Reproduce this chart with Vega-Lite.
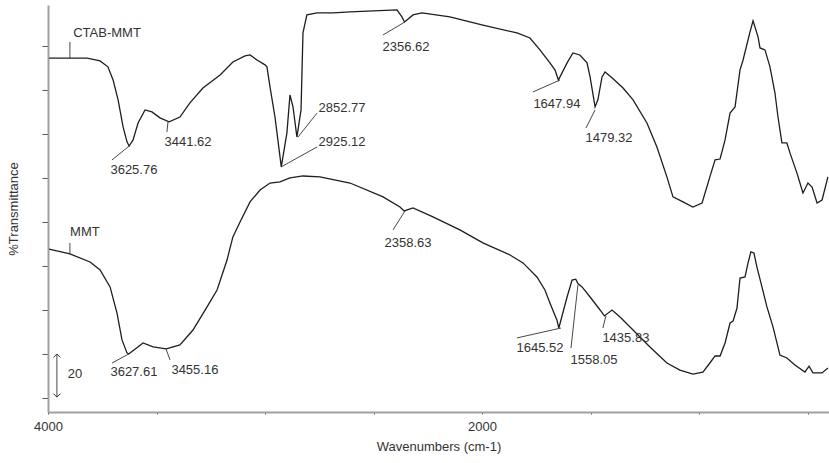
{
  "$schema": "https://vega.github.io/schema/vega-lite/v6.json",
  "width": 781,
  "height": 407,
  "autosize": {"type": "none"},
  "padding": {"left": 48, "top": 5, "right": 0, "bottom": 51},
  "background": "white",
  "config": {
    "view": {"stroke": null},
    "font": "Liberation Sans",
    "text": {"font": "Liberation Sans"}
  },
  "datasets": {
    "spectra": [
      {"sample": "CTAB-MMT", "wn": 3995, "t": 154.5},
      {"sample": "CTAB-MMT", "wn": 3899, "t": 154.5},
      {"sample": "CTAB-MMT", "wn": 3820, "t": 154.5},
      {"sample": "CTAB-MMT", "wn": 3760, "t": 153.2},
      {"sample": "CTAB-MMT", "wn": 3724, "t": 150.5},
      {"sample": "CTAB-MMT", "wn": 3700, "t": 144.5},
      {"sample": "CTAB-MMT", "wn": 3677, "t": 135.5},
      {"sample": "CTAB-MMT", "wn": 3654, "t": 123.2},
      {"sample": "CTAB-MMT", "wn": 3636, "t": 116.4},
      {"sample": "CTAB-MMT", "wn": 3626, "t": 114.5},
      {"sample": "CTAB-MMT", "wn": 3608, "t": 117.3},
      {"sample": "CTAB-MMT", "wn": 3585, "t": 125},
      {"sample": "CTAB-MMT", "wn": 3553, "t": 130.9},
      {"sample": "CTAB-MMT", "wn": 3521, "t": 130},
      {"sample": "CTAB-MMT", "wn": 3484, "t": 127.3},
      {"sample": "CTAB-MMT", "wn": 3442, "t": 125.5},
      {"sample": "CTAB-MMT", "wn": 3392, "t": 127.7},
      {"sample": "CTAB-MMT", "wn": 3346, "t": 134.1},
      {"sample": "CTAB-MMT", "wn": 3286, "t": 140.9},
      {"sample": "CTAB-MMT", "wn": 3207, "t": 146.8},
      {"sample": "CTAB-MMT", "wn": 3148, "t": 152.7},
      {"sample": "CTAB-MMT", "wn": 3092, "t": 155.5},
      {"sample": "CTAB-MMT", "wn": 3069, "t": 155.9},
      {"sample": "CTAB-MMT", "wn": 3037, "t": 153.6},
      {"sample": "CTAB-MMT", "wn": 3000, "t": 151.4},
      {"sample": "CTAB-MMT", "wn": 2991, "t": 150.5},
      {"sample": "CTAB-MMT", "wn": 2977, "t": 141.4},
      {"sample": "CTAB-MMT", "wn": 2954, "t": 127.7},
      {"sample": "CTAB-MMT", "wn": 2925, "t": 105},
      {"sample": "CTAB-MMT", "wn": 2899, "t": 120.5},
      {"sample": "CTAB-MMT", "wn": 2885, "t": 137.7},
      {"sample": "CTAB-MMT", "wn": 2871, "t": 132.3},
      {"sample": "CTAB-MMT", "wn": 2853, "t": 118.6},
      {"sample": "CTAB-MMT", "wn": 2834, "t": 130.9},
      {"sample": "CTAB-MMT", "wn": 2825, "t": 165.9},
      {"sample": "CTAB-MMT", "wn": 2807, "t": 174.1},
      {"sample": "CTAB-MMT", "wn": 2760, "t": 175},
      {"sample": "CTAB-MMT", "wn": 2687, "t": 175},
      {"sample": "CTAB-MMT", "wn": 2608, "t": 175.5},
      {"sample": "CTAB-MMT", "wn": 2392, "t": 176.4},
      {"sample": "CTAB-MMT", "wn": 2369, "t": 173.2},
      {"sample": "CTAB-MMT", "wn": 2357, "t": 170.9},
      {"sample": "CTAB-MMT", "wn": 2318, "t": 174.1},
      {"sample": "CTAB-MMT", "wn": 2277, "t": 175},
      {"sample": "CTAB-MMT", "wn": 2148, "t": 173.2},
      {"sample": "CTAB-MMT", "wn": 1996, "t": 169.5},
      {"sample": "CTAB-MMT", "wn": 1839, "t": 165.9},
      {"sample": "CTAB-MMT", "wn": 1779, "t": 163.6},
      {"sample": "CTAB-MMT", "wn": 1733, "t": 158.2},
      {"sample": "CTAB-MMT", "wn": 1687, "t": 152.3},
      {"sample": "CTAB-MMT", "wn": 1664, "t": 149.1},
      {"sample": "CTAB-MMT", "wn": 1648, "t": 144.5},
      {"sample": "CTAB-MMT", "wn": 1608, "t": 152.3},
      {"sample": "CTAB-MMT", "wn": 1581, "t": 156.8},
      {"sample": "CTAB-MMT", "wn": 1549, "t": 155.9},
      {"sample": "CTAB-MMT", "wn": 1516, "t": 152.3},
      {"sample": "CTAB-MMT", "wn": 1502, "t": 145.9},
      {"sample": "CTAB-MMT", "wn": 1479, "t": 132.3},
      {"sample": "CTAB-MMT", "wn": 1466, "t": 135.5},
      {"sample": "CTAB-MMT", "wn": 1447, "t": 145.9},
      {"sample": "CTAB-MMT", "wn": 1433, "t": 148.2},
      {"sample": "CTAB-MMT", "wn": 1401, "t": 145.5},
      {"sample": "CTAB-MMT", "wn": 1350, "t": 140.9},
      {"sample": "CTAB-MMT", "wn": 1304, "t": 135.5},
      {"sample": "CTAB-MMT", "wn": 1240, "t": 125},
      {"sample": "CTAB-MMT", "wn": 1194, "t": 114.1},
      {"sample": "CTAB-MMT", "wn": 1148, "t": 100.5},
      {"sample": "CTAB-MMT", "wn": 1120, "t": 91.4},
      {"sample": "CTAB-MMT", "wn": 1074, "t": 89.1},
      {"sample": "CTAB-MMT", "wn": 1028, "t": 86.8},
      {"sample": "CTAB-MMT", "wn": 986, "t": 88.6},
      {"sample": "CTAB-MMT", "wn": 950, "t": 100.5},
      {"sample": "CTAB-MMT", "wn": 926, "t": 108.2},
      {"sample": "CTAB-MMT", "wn": 903, "t": 108.6},
      {"sample": "CTAB-MMT", "wn": 880, "t": 117.3},
      {"sample": "CTAB-MMT", "wn": 857, "t": 129.5},
      {"sample": "CTAB-MMT", "wn": 834, "t": 132.3},
      {"sample": "CTAB-MMT", "wn": 811, "t": 149.1},
      {"sample": "CTAB-MMT", "wn": 797, "t": 153.6},
      {"sample": "CTAB-MMT", "wn": 765, "t": 166.4},
      {"sample": "CTAB-MMT", "wn": 751, "t": 171.4},
      {"sample": "CTAB-MMT", "wn": 728, "t": 164.1},
      {"sample": "CTAB-MMT", "wn": 719, "t": 159.1},
      {"sample": "CTAB-MMT", "wn": 696, "t": 158.2},
      {"sample": "CTAB-MMT", "wn": 673, "t": 150.5},
      {"sample": "CTAB-MMT", "wn": 650, "t": 138.6},
      {"sample": "CTAB-MMT", "wn": 636, "t": 127.7},
      {"sample": "CTAB-MMT", "wn": 618, "t": 115.9},
      {"sample": "CTAB-MMT", "wn": 595, "t": 115.9},
      {"sample": "CTAB-MMT", "wn": 581, "t": 111.4},
      {"sample": "CTAB-MMT", "wn": 549, "t": 102.3},
      {"sample": "CTAB-MMT", "wn": 521, "t": 93.2},
      {"sample": "CTAB-MMT", "wn": 498, "t": 97.7},
      {"sample": "CTAB-MMT", "wn": 479, "t": 95.9},
      {"sample": "CTAB-MMT", "wn": 456, "t": 88.6},
      {"sample": "CTAB-MMT", "wn": 433, "t": 90},
      {"sample": "CTAB-MMT", "wn": 406, "t": 100.5},
      {"sample": "MMT", "wn": 3995, "t": 67.7},
      {"sample": "MMT", "wn": 3899, "t": 65.5},
      {"sample": "MMT", "wn": 3806, "t": 61.8},
      {"sample": "MMT", "wn": 3760, "t": 58.2},
      {"sample": "MMT", "wn": 3714, "t": 50.5},
      {"sample": "MMT", "wn": 3682, "t": 38.6},
      {"sample": "MMT", "wn": 3659, "t": 26.4},
      {"sample": "MMT", "wn": 3636, "t": 20.5},
      {"sample": "MMT", "wn": 3628, "t": 20},
      {"sample": "MMT", "wn": 3562, "t": 25},
      {"sample": "MMT", "wn": 3516, "t": 23.2},
      {"sample": "MMT", "wn": 3455, "t": 22.3},
      {"sample": "MMT", "wn": 3392, "t": 24.1},
      {"sample": "MMT", "wn": 3332, "t": 30.9},
      {"sample": "MMT", "wn": 3267, "t": 41.4},
      {"sample": "MMT", "wn": 3221, "t": 49.1},
      {"sample": "MMT", "wn": 3175, "t": 62.7},
      {"sample": "MMT", "wn": 3148, "t": 73.2},
      {"sample": "MMT", "wn": 3115, "t": 80},
      {"sample": "MMT", "wn": 3069, "t": 89.1},
      {"sample": "MMT", "wn": 3023, "t": 94.5},
      {"sample": "MMT", "wn": 2977, "t": 97.7},
      {"sample": "MMT", "wn": 2931, "t": 98.2},
      {"sample": "MMT", "wn": 2885, "t": 100},
      {"sample": "MMT", "wn": 2825, "t": 100.9},
      {"sample": "MMT", "wn": 2747, "t": 100.5},
      {"sample": "MMT", "wn": 2608, "t": 97.7},
      {"sample": "MMT", "wn": 2456, "t": 91.4},
      {"sample": "MMT", "wn": 2378, "t": 86.8},
      {"sample": "MMT", "wn": 2359, "t": 85},
      {"sample": "MMT", "wn": 2318, "t": 86.4},
      {"sample": "MMT", "wn": 2226, "t": 82.3},
      {"sample": "MMT", "wn": 2102, "t": 76.4},
      {"sample": "MMT", "wn": 1996, "t": 70.5},
      {"sample": "MMT", "wn": 1871, "t": 65},
      {"sample": "MMT", "wn": 1811, "t": 61.4},
      {"sample": "MMT", "wn": 1747, "t": 55},
      {"sample": "MMT", "wn": 1710, "t": 49.1},
      {"sample": "MMT", "wn": 1687, "t": 43.2},
      {"sample": "MMT", "wn": 1655, "t": 35.5},
      {"sample": "MMT", "wn": 1646, "t": 31.8},
      {"sample": "MMT", "wn": 1608, "t": 45.9},
      {"sample": "MMT", "wn": 1585, "t": 53.6},
      {"sample": "MMT", "wn": 1568, "t": 54},
      {"sample": "MMT", "wn": 1558, "t": 52},
      {"sample": "MMT", "wn": 1539, "t": 50.5},
      {"sample": "MMT", "wn": 1502, "t": 45.9},
      {"sample": "MMT", "wn": 1456, "t": 40},
      {"sample": "MMT", "wn": 1436, "t": 37.3},
      {"sample": "MMT", "wn": 1401, "t": 40},
      {"sample": "MMT", "wn": 1364, "t": 36.8},
      {"sample": "MMT", "wn": 1304, "t": 30.9},
      {"sample": "MMT", "wn": 1226, "t": 23.2},
      {"sample": "MMT", "wn": 1148, "t": 15.9},
      {"sample": "MMT", "wn": 1088, "t": 12.7},
      {"sample": "MMT", "wn": 1028, "t": 10.9},
      {"sample": "MMT", "wn": 982, "t": 11.8},
      {"sample": "MMT", "wn": 950, "t": 15.9},
      {"sample": "MMT", "wn": 926, "t": 19.1},
      {"sample": "MMT", "wn": 903, "t": 19.1},
      {"sample": "MMT", "wn": 880, "t": 25},
      {"sample": "MMT", "wn": 857, "t": 34.1},
      {"sample": "MMT", "wn": 843, "t": 35},
      {"sample": "MMT", "wn": 825, "t": 40.9},
      {"sample": "MMT", "wn": 811, "t": 54.5},
      {"sample": "MMT", "wn": 788, "t": 55},
      {"sample": "MMT", "wn": 774, "t": 61.4},
      {"sample": "MMT", "wn": 761, "t": 66.4},
      {"sample": "MMT", "wn": 747, "t": 65.9},
      {"sample": "MMT", "wn": 733, "t": 59.5},
      {"sample": "MMT", "wn": 710, "t": 50.5},
      {"sample": "MMT", "wn": 687, "t": 41.4},
      {"sample": "MMT", "wn": 659, "t": 32.3},
      {"sample": "MMT", "wn": 627, "t": 19.5},
      {"sample": "MMT", "wn": 595, "t": 18.2},
      {"sample": "MMT", "wn": 558, "t": 15},
      {"sample": "MMT", "wn": 512, "t": 11.8},
      {"sample": "MMT", "wn": 493, "t": 14.5},
      {"sample": "MMT", "wn": 475, "t": 11.4},
      {"sample": "MMT", "wn": 433, "t": 11.4},
      {"sample": "MMT", "wn": 406, "t": 13.6}
    ],
    "labels": [
      {"label": "CTAB-MMT", "wn": 3728, "t": 165.9},
      {"label": "3625.76", "wn": 3604, "t": 103.6},
      {"label": "3441.62", "wn": 3355, "t": 116.4},
      {"label": "2925.12", "wn": 2645, "t": 116.4},
      {"label": "2852.77", "wn": 2645, "t": 131.8},
      {"label": "2356.62", "wn": 2350, "t": 159.5},
      {"label": "1647.94", "wn": 1655, "t": 133.6},
      {"label": "1479.32", "wn": 1415, "t": 118.2},
      {"label": "MMT", "wn": 3830, "t": 75.5},
      {"label": "3627.61", "wn": 3604, "t": 11.8},
      {"label": "3455.16", "wn": 3323, "t": 12.7},
      {"label": "2358.63", "wn": 2341, "t": 70.5},
      {"label": "1645.52", "wn": 1733, "t": 22.7},
      {"label": "1558.05", "wn": 1484, "t": 17.3},
      {"label": "1435.83", "wn": 1337, "t": 27.3},
      {"label": "20", "wn": 3876, "t": 10.9}
    ],
    "leaders": [
      {"wn": 3899, "t": 161.8, "wn2": 3899, "t2": 154.5},
      {"wn": 3705, "t": 108.2, "wn2": 3626, "t2": 114.5},
      {"wn": 3452, "t": 120.9, "wn2": 3447, "t2": 125.5},
      {"wn": 2760, "t": 114.1, "wn2": 2926, "t2": 105},
      {"wn": 2760, "t": 129.5, "wn2": 2848, "t2": 118.6},
      {"wn": 2456, "t": 165, "wn2": 2355, "t2": 170.9},
      {"wn": 1765, "t": 139.1, "wn2": 1641, "t2": 144.5},
      {"wn": 1521, "t": 122.7, "wn2": 1479, "t2": 130.9},
      {"wn": 3899, "t": 70.5, "wn2": 3899, "t2": 65.5},
      {"wn": 3705, "t": 15.9, "wn2": 3628, "t2": 20},
      {"wn": 3438, "t": 17.3, "wn2": 3456, "t2": 22.3},
      {"wn": 2410, "t": 76.4, "wn2": 2355, "t2": 85},
      {"wn": 1839, "t": 27.3, "wn2": 1636, "t2": 31.8},
      {"wn": 1590, "t": 22.7, "wn2": 1558, "t2": 51.4},
      {"wn": 1443, "t": 31.8, "wn2": 1429, "t2": 37.3},
      {"wn": 3959, "t": 0.4, "wn2": 3959, "t2": 20}
    ],
    "arrows": [
      {"end": "top", "wn": 3959, "t": 20},
      {"end": "bottom", "wn": 3959, "t": 0.4}
    ]
  },
  "layer": [
    {
      "data": {"name": "spectra"},
      "mark": {"type": "line", "color": "#1e1e1e", "strokeWidth": 1.3, "interpolate": "linear"},
      "encoding": {
        "x": {
          "field": "wn", "type": "quantitative", "title": "Wavenumbers (cm-1)",
          "scale": {"domain": [401, 4000], "reverse": true, "nice": false, "zero": false},
          "axis": {
            "values": [4000, 3500, 3000, 2500, 2000, 1500, 1000, 500],
            "format": "d",
            "labelExpr": "(datum.value === 4000 || datum.value === 2000) ? datum.label : ''",
            "labelFlush": false, "labelOverlap": false,
            "grid": false, "domainColor": "#a0a0a0", "domainWidth": 2,
            "tickColor": "#555", "tickSize": 2, "labelPadding": 6,
            "labelFont": "Liberation Sans", "labelFontSize": 13, "labelColor": "#333",
            "titleFont": "Liberation Sans", "titleFontSize": 13, "titleFontWeight": "normal",
            "titleColor": "#333", "titlePadding": 7
          }
        },
        "y": {
          "field": "t", "type": "quantitative", "title": "%Transmittance",
          "scale": {"domain": [-6.36, 178.6], "nice": false, "zero": false},
          "axis": {
            "values": [0, 5, 10, 15, 20, 25, 30, 35, 40, 45, 50, 55, 60, 65, 70, 75, 80, 85, 90, 95, 100, 105, 110, 115, 120, 125, 130, 135, 140, 145, 150, 155, 160, 165, 170, 175],
            "labels": false, "grid": false,
            "domainColor": "#a0a0a0", "domainWidth": 2,
            "tickColor": "#555",
            "tickSize": {"condition": {"test": "datum.value % 20 === 0", "value": 6}, "value": 3},
            "titleFont": "Liberation Sans", "titleFontSize": 13, "titleFontWeight": "normal",
            "titleColor": "#333", "titlePadding": 21
          }
        },
        "detail": {"field": "sample", "type": "nominal"}
      }
    },
    {
      "data": {"name": "leaders"},
      "mark": {"type": "rule", "color": "#333", "strokeWidth": 0.9},
      "encoding": {
        "x": {"field": "wn", "type": "quantitative", "title": "Wavenumbers (cm-1)"},
        "x2": {"field": "wn2"},
        "y": {"field": "t", "type": "quantitative", "title": "%Transmittance"},
        "y2": {"field": "t2"}
      }
    },
    {
      "data": {"name": "labels"},
      "mark": {"type": "text", "font": "Liberation Sans", "fontSize": 13, "color": "#333", "align": "center", "baseline": "middle"},
      "encoding": {
        "x": {"field": "wn", "type": "quantitative", "title": "Wavenumbers (cm-1)"},
        "y": {"field": "t", "type": "quantitative", "title": "%Transmittance"},
        "text": {"field": "label", "type": "nominal"}
      }
    },
    {
      "data": {"name": "arrows"},
      "transform": [{"filter": "datum.end === 'top'"}],
      "mark": {"type": "point", "shape": "M-1,1L0,0L1,1", "filled": false, "size": 49, "color": "#333", "strokeWidth": 1, "opacity": 1},
      "encoding": {
        "x": {"field": "wn", "type": "quantitative", "title": "Wavenumbers (cm-1)"},
        "y": {"field": "t", "type": "quantitative", "title": "%Transmittance"}
      }
    },
    {
      "data": {"name": "arrows"},
      "transform": [{"filter": "datum.end === 'bottom'"}],
      "mark": {"type": "point", "shape": "M-1,-1L0,0L1,-1", "filled": false, "size": 49, "color": "#333", "strokeWidth": 1, "opacity": 1},
      "encoding": {
        "x": {"field": "wn", "type": "quantitative", "title": "Wavenumbers (cm-1)"},
        "y": {"field": "t", "type": "quantitative", "title": "%Transmittance"}
      }
    }
  ]
}
